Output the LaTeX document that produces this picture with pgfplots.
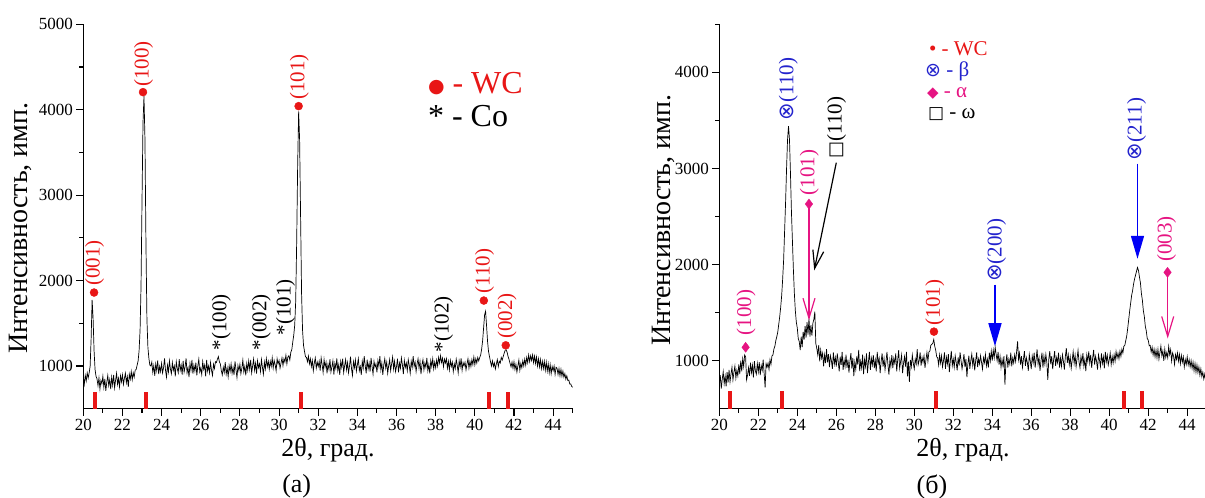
\documentclass[border=0pt]{standalone}
\usepackage{fontspec}
\setmainfont{Liberation Serif}
\newfontfamily\sym{DejaVu Sans}
\usepackage{pgfplots}
\pgfplotsset{compat=1.18}
\usepackage{pgfplotstable}
\usetikzlibrary{arrows.meta}
\definecolor{wcred}{RGB}{232,22,22}
\definecolor{bblue}{RGB}{35,35,205}
\definecolor{arrblue}{RGB}{0,0,245}
\definecolor{amag}{RGB}{230,20,130}
\newcommand{\fs}[1]{\fontsize{#1}{#1}\selectfont}
\tikzset{lbl/.style={rotate=90, anchor=west, inner sep=1pt, font=\fs{21}}}

\pgfplotstableread[row sep=\\]{
y\\
870\\ 785\\ 890\\ 825\\ 920\\ 860\\ 920\\ 1000\\ 1320\\ 1775\\
1560\\ 1180\\ 960\\ 880\\ 850\\ 770\\ 860\\ 730\\ 830\\ 790\\
880\\ 750\\ 850\\ 710\\ 810\\ 890\\ 770\\ 840\\ 730\\ 870\\
775\\ 895\\ 745\\ 835\\ 915\\ 785\\ 855\\ 755\\ 885\\ 815\\
895\\ 785\\ 855\\ 915\\ 805\\ 875\\ 755\\ 905\\ 845\\ 935\\
840\\ 920\\ 870\\ 950\\ 960\\ 1010\\ 1060\\ 1180\\ 1420\\ 1950\\
2950\\ 3850\\ 4160\\ 3650\\ 2450\\ 1550\\ 1220\\ 1090\\ 1010\\ 1000\\
1045\\ 925\\ 1005\\ 885\\ 1025\\ 945\\ 1065\\ 905\\ 995\\ 935\\
1030\\ 920\\ 980\\ 1090\\ 950\\ 870\\ 1010\\ 930\\ 1060\\ 965\\
910\\ 1040\\ 950\\ 1000\\ 880\\ 1050\\ 970\\ 920\\ 1080\\ 950\\
1010\\ 900\\ 1060\\ 930\\ 990\\ 1090\\ 920\\ 980\\ 870\\ 1030\\
950\\ 1070\\ 910\\ 1010\\ 940\\ 1040\\ 890\\ 1000\\ 1080\\ 930\\
975\\ 900\\ 1050\\ 960\\ 1010\\ 880\\ 1070\\ 940\\ 1000\\ 920\\
1040\\ 950\\ 890\\ 1020\\ 970\\ 1050\\ 1040\\ 1080\\ 1110\\ 1050\\
1025\\ 945\\ 895\\ 985\\ 925\\ 1045\\ 905\\ 975\\ 875\\ 1005\\
935\\ 1025\\ 915\\ 985\\ 895\\ 1055\\ 955\\ 865\\ 1005\\ 945\\
1020\\ 910\\ 975\\ 1070\\ 930\\ 995\\ 890\\ 1030\\ 950\\ 1060\\
960\\ 1070\\ 920\\ 1000\\ 1080\\ 950\\ 1030\\ 910\\ 1060\\ 980\\
1025\\ 935\\ 1075\\ 985\\ 905\\ 1045\\ 965\\ 1085\\ 995\\ 1055\\
965\\ 1055\\ 995\\ 1095\\ 975\\ 1065\\ 1015\\ 945\\ 1085\\ 1025\\
1065\\ 975\\ 1035\\ 1095\\ 1005\\ 1085\\ 1045\\ 1125\\ 1025\\ 1105\\
1120\\ 1070\\ 1160\\ 1190\\ 1280\\ 1360\\ 1480\\ 1760\\ 2450\\ 3350\\
3980\\ 3650\\ 2750\\ 1850\\ 1420\\ 1240\\ 1170\\ 1110\\ 1100\\ 1050\\
1115\\ 1025\\ 1085\\ 995\\ 1065\\ 945\\ 1035\\ 1095\\ 975\\ 1045\\
995\\ 1055\\ 945\\ 1095\\ 1015\\ 925\\ 1075\\ 985\\ 1045\\ 915\\
1020\\ 960\\ 1080\\ 930\\ 990\\ 1060\\ 900\\ 1030\\ 970\\ 1090\\
945\\ 1015\\ 895\\ 1055\\ 985\\ 1085\\ 925\\ 1005\\ 1075\\ 955\\
1040\\ 920\\ 1000\\ 1110\\ 970\\ 890\\ 1050\\ 980\\ 1070\\ 940\\
1015\\ 1085\\ 945\\ 995\\ 895\\ 1055\\ 975\\ 1115\\ 1005\\ 915\\
1075\\ 965\\ 1035\\ 935\\ 1095\\ 995\\ 905\\ 1055\\ 985\\ 1025\\
925\\ 1065\\ 995\\ 1115\\ 955\\ 1035\\ 895\\ 1015\\ 1085\\ 975\\
1045\\ 915\\ 1005\\ 1075\\ 945\\ 1025\\ 1105\\ 965\\ 1055\\ 935\\
995\\ 1085\\ 925\\ 1035\\ 975\\ 1095\\ 1015\\ 905\\ 1065\\ 985\\
1035\\ 945\\ 1075\\ 1005\\ 915\\ 1055\\ 985\\ 1115\\ 995\\ 1045\\
935\\ 1025\\ 1085\\ 975\\ 1055\\ 905\\ 1015\\ 1075\\ 955\\ 1035\\
985\\ 1095\\ 945\\ 1015\\ 915\\ 1065\\ 995\\ 1085\\ 965\\ 1045\\
980\\ 1070\\ 1000\\ 1100\\ 1035\\ 1120\\ 1040\\ 1090\\ 990\\ 1080\\
1035\\ 1085\\ 975\\ 1055\\ 955\\ 1065\\ 995\\ 1045\\ 935\\ 1025\\
970\\ 1080\\ 1010\\ 920\\ 1060\\ 990\\ 1090\\ 950\\ 1040\\ 1000\\
1045\\ 955\\ 1025\\ 1085\\ 975\\ 1055\\ 995\\ 1075\\ 1015\\ 1105\\
1015\\ 1085\\ 1035\\ 1100\\ 1060\\ 1100\\ 1130\\ 1200\\ 1300\\ 1450\\
1600\\ 1640\\ 1470\\ 1290\\ 1170\\ 1110\\ 1050\\ 1000\\ 1060\\ 995\\
1035\\ 965\\ 1025\\ 1075\\ 995\\ 1055\\ 1035\\ 1100\\ 1070\\ 1110\\
1150\\ 1185\\ 1190\\ 1160\\ 1110\\ 1075\\ 1030\\ 990\\ 1045\\ 975\\
1050\\ 960\\ 1020\\ 930\\ 1000\\ 1070\\ 950\\ 1030\\ 980\\ 1060\\
1000\\ 1080\\ 1010\\ 1100\\ 1040\\ 1130\\ 1050\\ 1120\\ 1065\\ 1130\\
1040\\ 1115\\ 1030\\ 1105\\ 1000\\ 1085\\ 990\\ 1075\\ 970\\ 1055\\
970\\ 1055\\ 950\\ 1045\\ 940\\ 1025\\ 920\\ 1015\\ 910\\ 995\\
945\\ 1000\\ 900\\ 985\\ 975\\ 900\\ 970\\ 885\\ 960\\ 880\\
940\\ 870\\ 910\\ 845\\ 885\\ 830\\ 835\\ 790\\ 790\\ 760\\
750\\
}\leftdata

\pgfplotstableread[row sep=\\]{
y\\
753\\ 849\\ 709\\ 805\\ 885\\ 760\\ 840\\ 733\\ 881\\ 773\\
905\\ 781\\ 861\\ 932\\ 800\\ 880\\ 943\\ 819\\ 899\\ 843\\
960\\ 860\\ 1000\\ 890\\ 1020\\ 940\\ 1060\\ 1040\\ 800\\ 850\\
927\\ 842\\ 978\\ 876\\ 952\\ 825\\ 995\\ 893\\ 859\\ 970\\
883\\ 985\\ 849\\ 950\\ 900\\ 1010\\ 866\\ 720\\ 968\\ 933\\
975\\ 910\\ 1010\\ 960\\ 1050\\ 1060\\ 1120\\ 1150\\ 1210\\ 1250\\
1300\\ 1380\\ 1460\\ 1560\\ 1680\\ 1850\\ 2050\\ 2350\\ 2650\\ 3000\\
3300\\ 3440\\ 3300\\ 2950\\ 2550\\ 2250\\ 1950\\ 1700\\ 1520\\ 1400\\
1340\\ 1230\\ 1200\\ 1110\\ 1250\\ 1140\\ 1300\\ 1220\\ 1360\\ 1240\\
1400\\ 1270\\ 1440\\ 1250\\ 1370\\ 1260\\ 1390\\ 1430\\ 1510\\ 1180\\
1128\\ 1060\\ 1162\\ 992\\ 1111\\ 1026\\ 1077\\ 941\\ 1060\\ 975\\
1119\\ 983\\ 1068\\ 932\\ 1051\\ 1000\\ 915\\ 1085\\ 966\\ 1034\\
939\\ 1075\\ 990\\ 888\\ 1041\\ 956\\ 1092\\ 905\\ 1007\\ 939\\
1062\\ 926\\ 1011\\ 875\\ 994\\ 1079\\ 917\\ 1028\\ 840\\ 985\\
909\\ 1045\\ 960\\ 1113\\ 892\\ 994\\ 926\\ 1062\\ 860\\ 1011\\
939\\ 1075\\ 871\\ 990\\ 1092\\ 905\\ 1024\\ 956\\ 1058\\ 922\\
1007\\ 888\\ 1092\\ 973\\ 1024\\ 871\\ 990\\ 1075\\ 939\\ 1024\\
905\\ 990\\ 1092\\ 956\\ 854\\ 1007\\ 939\\ 1058\\ 922\\ 1024\\
973\\ 1075\\ 888\\ 1007\\ 1109\\ 922\\ 990\\ 1058\\ 871\\ 973\\
1041\\ 939\\ 1092\\ 837\\ 990\\ 780\\ 1007\\ 939\\ 1058\\ 973\\
915\\ 1017\\ 966\\ 1119\\ 958\\ 1000\\ 1085\\ 949\\ 1034\\ 983\\
1051\\ 925\\ 1010\\ 1085\\ 993\\ 1090\\ 1100\\ 1160\\ 1170\\ 1180\\
1220\\ 1150\\ 1110\\ 1040\\ 1030\\ 955\\ 1060\\ 975\\ 1050\\ 935\\
1000\\ 1085\\ 915\\ 1034\\ 966\\ 1068\\ 881\\ 1000\\ 1102\\ 949\\
1017\\ 932\\ 1051\\ 983\\ 898\\ 1034\\ 949\\ 1085\\ 1000\\ 915\\
983\\ 1068\\ 932\\ 1017\\ 830\\ 966\\ 1051\\ 915\\ 1000\\ 1068\\
949\\ 1034\\ 898\\ 1000\\ 1085\\ 932\\ 1017\\ 966\\ 1051\\ 983\\
912\\ 1030\\ 980\\ 1065\\ 946\\ 1014\\ 929\\ 1082\\ 997\\ 1099\\
1000\\ 1110\\ 1030\\ 1140\\ 1065\\ 1000\\ 1090\\ 960\\ 1045\\ 930\\
1014\\ 946\\ 1048\\ 750\\ 980\\ 1065\\ 929\\ 1014\\ 963\\ 1082\\
942\\ 1027\\ 976\\ 1061\\ 993\\ 1095\\ 1200\\ 1010\\ 1078\\ 959\\
1048\\ 929\\ 1014\\ 1099\\ 946\\ 1031\\ 980\\ 895\\ 1065\\ 997\\
912\\ 1048\\ 980\\ 1082\\ 929\\ 1014\\ 1116\\ 963\\ 1031\\ 895\\
997\\ 1082\\ 929\\ 1048\\ 963\\ 1065\\ 980\\ 800\\ 1014\\ 1099\\
963\\ 1048\\ 912\\ 1014\\ 1099\\ 946\\ 1031\\ 980\\ 1082\\ 929\\
1027\\ 942\\ 1061\\ 993\\ 908\\ 1044\\ 1129\\ 976\\ 1061\\ 959\\
1040\\ 921\\ 1006\\ 1092\\ 972\\ 1057\\ 938\\ 1023\\ 1108\\ 989\\
925\\ 1044\\ 976\\ 1078\\ 942\\ 1010\\ 891\\ 1061\\ 993\\ 1095\\
976\\ 1061\\ 925\\ 1027\\ 1112\\ 959\\ 1044\\ 993\\ 908\\ 1061\\
1007\\ 938\\ 1075\\ 972\\ 1040\\ 921\\ 1092\\ 989\\ 1057\\ 955\\
1010\\ 1078\\ 959\\ 1044\\ 976\\ 1061\\ 993\\ 1095\\ 1027\\ 1078\\
1020\\ 1100\\ 1045\\ 1120\\ 1080\\ 1150\\ 1160\\ 1210\\ 1260\\ 1340\\
1430\\ 1520\\ 1600\\ 1680\\ 1730\\ 1800\\ 1850\\ 1890\\ 1930\\ 1970\\
1940\\ 1870\\ 1810\\ 1700\\ 1630\\ 1520\\ 1460\\ 1360\\ 1310\\ 1230\\
1215\\ 1155\\ 1160\\ 1090\\ 1140\\ 1060\\ 1120\\ 1040\\ 1110\\ 1030\\
1118\\ 1015\\ 1084\\ 1152\\ 1050\\ 1101\\ 999\\ 1118\\ 1033\\ 1084\\
1030\\ 1149\\ 1063\\ 1115\\ 996\\ 1080\\ 1047\\ 962\\ 1063\\ 1013\\
1080\\ 995\\ 1065\\ 968\\ 1055\\ 985\\ 1040\\ 935\\ 1012\\ 960\\
1040\\ 955\\ 1010\\ 935\\ 1000\\ 920\\ 985\\ 895\\ 970\\ 880\\
955\\ 875\\ 935\\ 850\\ 915\\ 835\\ 880\\ 810\\ 860\\ 790\\
790\\
}\rightdata

\pgfplotsset{xrd/.style={
  scale only axis, height=384.4pt,
  axis x line=bottom, axis y line=left,
  x axis line style={-}, y axis line style={-},
  axis line style={line width=1.2pt},
  xmin=20, xmax=45,
  xtick={20,22,...,44}, minor xtick={21,23,...,45},
  tick align=outside,
  major tick length=7pt, minor tick length=4pt,
  tick style={line width=1.1pt, black},
  tick label style={font=\fs{17}},
  /pgf/number format/assume math mode=true,
  /pgf/number format/1000 sep={},
  xlabel={2θ, град.},
  xlabel style={font=\fs{26}, at={(axis description cs:0.5,-0.107)}, anchor=center},
  ylabel={Интенсивность, имп.},
  ylabel style={font=\fs{28}, anchor=center},
  clip mode=individual,
}}

\begin{document}
\begin{tikzpicture}
\useasboundingbox (0,0) rectangle (1205pt,-498pt);

% ---------------- (a) ----------------
\begin{axis}[xrd, at={(83.3pt,-408.7pt)}, anchor=south west, width=489.4pt,
  ymin=500, ymax=5000, ytick={1000,2000,3000,4000,5000},
  minor ytick={1500,2500,3500,4500},
  ylabel style={at={(axis description cs:-0.129,0.47)}}]
\addplot[black, line width=0.7pt] table[x expr=20+0.05*\coordindex, y index=0] {\leftdata};
\addplot[wcred, ycomb, line width=4pt] coordinates {(20.58,700) (23.2,700) (31.1,700) (40.72,700) (41.67,700)};
\addplot[only marks, mark=*, mark size=4pt, wcred] coordinates {(20.55,1860) (23.05,4206) (31.0,4042) (40.46,1766) (41.58,1242)};
\node[lbl, text=wcred] at (axis cs:20.58,1925) {(001)};
\node[lbl, text=wcred] at (axis cs:23.08,4255) {(100)};
\node[lbl, text=wcred] at (axis cs:31.03,4100) {(101)};
\node[lbl, text=wcred] at (axis cs:40.5,1833) {(110)};
\node[lbl, text=wcred] at (axis cs:41.65,1305) {(002)};
\node[lbl] at (axis cs:27.05,1168) {*(100)};
\node[lbl] at (axis cs:29.1,1168) {*(002)};
\node[lbl] at (axis cs:30.33,1344) {*(101)};
\node[lbl] at (axis cs:38.4,1149) {*(102)};
\node[anchor=base west, inner sep=0pt, font=\fs{32}, text=wcred] at (axis cs:37.6,4190) {\raisebox{1pt}{\fs{19}\sym ●} - WC};
\node[anchor=base west, inner sep=0pt, font=\fs{32}] at (axis cs:37.6,3800) {* - Co};
\end{axis}

% ---------------- (б) ----------------
\begin{axis}[xrd, at={(719.3pt,-408.7pt)}, anchor=south west, width=487.4pt,
  ymin=500, ymax=4500, ytick={1000,2000,3000,4000},
  minor ytick={1500,2500,3500,4500},
  ylabel style={at={(axis description cs:-0.115,0.49)}}]
\addplot[black, line width=0.7pt] table[x expr=20+0.05*\coordindex, y index=0] {\rightdata};
\addplot[wcred, ycomb, line width=4pt] coordinates {(20.55,680) (23.2,680) (31.1,680) (40.75,680) (41.7,680)};
\addplot[only marks, mark=*, mark size=4pt, wcred] coordinates {(31.01,1302)};
\addplot[only marks, mark=diamond*, mark size=5pt, amag] coordinates {(21.35,1139) (24.6,2630) (42.99,1919)};
% arrows
\draw[black, line width=1.2pt, -{Straight Barb[length=18pt,width=11pt]}] (axis cs:26.0,3060) -- (axis cs:24.87,1940);
\draw[amag, line width=1.2pt, -{Straight Barb[length=20pt,width=12pt]}] (axis cs:24.6,2590) -- (axis cs:24.6,1420);
\draw[amag, line width=1.2pt, -{Straight Barb[length=20pt,width=12pt]}] (axis cs:43.0,1880) -- (axis cs:43.0,1230);
\draw[arrblue, line width=1.4pt, -{Triangle[length=23pt,width=13pt]}] (axis cs:34.14,1790) -- (axis cs:34.14,1150);
\draw[arrblue, line width=1.4pt, -{Triangle[length=23pt,width=13pt]}] (axis cs:41.45,3050) -- (axis cs:41.45,2060);
% labels
\node[lbl, text=amag] at (axis cs:21.37,1250) {(100)};
\node[lbl, text=bblue] at (axis cs:23.54,3490) {{\sym ⊗}(110)};
\node[lbl] at (axis cs:26.02,3092) {{\sym\fs{18}□}(110)};
\node[lbl, text=amag] at (axis cs:24.62,2710) {(101)};
\node[lbl, text=wcred] at (axis cs:31.06,1357) {(101)};
\node[lbl, text=bblue] at (axis cs:34.22,1808) {{\sym ⊗}(200)};
\node[lbl, text=bblue] at (axis cs:41.40,3074) {{\sym ⊗}(211)};
\node[lbl, text=amag] at (axis cs:42.94,2016) {(003)};
% legend
\node[anchor=west, inner sep=0pt, font=\fs{21}, text=wcred] at (axis cs:30.75,4247) {• - WC};
\node[anchor=west, inner sep=0pt, font=\fs{21}, text=bblue] at (axis cs:30.55,4007) {{\sym\fs{19}⊗} - β};
\node[anchor=west, inner sep=0pt, font=\fs{21}, text=amag] at (axis cs:30.65,3778) {{\sym\fs{15}◆} - α};
\node[anchor=west, inner sep=0pt, font=\fs{21}] at (axis cs:30.7,3570) {{\sym\fs{17}□} - ω};
\end{axis}

\node[font=\fs{26}] at (296.7pt,-486.7pt) {(a)};
\node[font=\fs{26}] at (932pt,-487pt) {(б)};
\end{tikzpicture}
\end{document}
